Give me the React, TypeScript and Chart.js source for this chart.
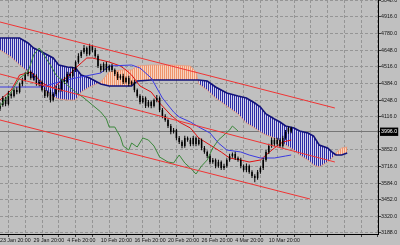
import { useEffect, useRef } from 'react';
import { Chart, registerables } from 'chart.js';

Chart.register(...registerables);

// ---- axis labels ----
const xLabelPos = [0, 12, 24, 36, 48, 60, 72, 84, 96];
const xLabels = ['23 Jan 20:00', '29 Jan 20:00', '4 Feb 20:00', '10 Feb 20:00', '16 Feb 20:00', '20 Feb 20:00', '26 Feb 20:00', '4 Mar 20:00', '10 Mar 20:00'];
const xGridPos = [0, 6, 12, 18, 24, 30, 36, 42, 48, 54, 60, 66, 72, 78, 84, 90, 96, 102, 108, 114, 120, 126, 132];
const yTickValues = [3188, 3320, 3452, 3584, 3716, 3852, 3996, 4116, 4248, 4384, 4516, 4648, 4780, 4916, 5048];
const currentPrice = 3996;

// ---- candles (bar index 0..104) ----
const opens = [
  4180, 4210, 4266, 4218, 4298, 4282, 4330, 4314, 4378, 4410,
  4458, 4474, 4426, 4442, 4378, 4394, 4330, 4282, 4314, 4250,
  4298, 4346, 4330, 4410, 4394, 4458, 4442, 4490, 4554, 4602,
  4634, 4666, 4618, 4682, 4650, 4602, 4522, 4490, 4538, 4490,
  4522, 4490, 4458, 4426, 4442, 4394, 4426, 4378, 4394, 4330,
  4282, 4234, 4266, 4202, 4234, 4202, 4250, 4266, 4170, 4122,
  4090, 4042, 3994, 4010, 3946, 3914, 3882, 3946, 3930, 3898,
  3946, 3898, 3930, 3866, 3834, 3802, 3754, 3770, 3722, 3754,
  3706, 3722, 3770, 3802, 3818, 3786, 3770, 3722, 3690, 3722,
  3674, 3642, 3626, 3674, 3706, 3770, 3834, 3882, 3930, 3898,
  3930, 3882, 3946, 3994, 4026,
];
const highs = [
  4230, 4282, 4276, 4322, 4312, 4344, 4352, 4390, 4428, 4472,
  4496, 4486, 4464, 4456, 4412, 4406, 4352, 4326, 4332, 4312,
  4362, 4370, 4420, 4436, 4476, 4470, 4512, 4566, 4624, 4648,
  4690, 4678, 4700, 4692, 4668, 4616, 4540, 4552, 4556, 4534,
  4540, 4502, 4476, 4456, 4460, 4438, 4444, 4406, 4412, 4342,
  4296, 4282, 4278, 4250, 4244, 4262, 4290, 4278, 4186, 4136,
  4104, 4058, 4026, 4020, 3962, 3928, 3964, 3958, 3948, 3962,
  3958, 3948, 3942, 3882, 3846, 3818, 3786, 3782, 3772, 3766,
  3740, 3784, 3820, 3830, 3836, 3798, 3788, 3734, 3742, 3734,
  3688, 3656, 3690, 3720, 3786, 3850, 3900, 3950, 3946, 3948,
  3944, 3964, 4010, 4038, 4036,
];
const lows = [
  4162, 4196, 4200, 4206, 4262, 4270, 4296, 4302, 4360, 4398,
  4440, 4412, 4406, 4364, 4360, 4318, 4266, 4270, 4230, 4238,
  4284, 4312, 4318, 4378, 4382, 4424, 4430, 4474, 4540, 4586,
  4620, 4600, 4606, 4632, 4588, 4506, 4470, 4476, 4472, 4478,
  4474, 4442, 4410, 4412, 4378, 4382, 4360, 4366, 4312, 4268,
  4216, 4222, 4186, 4190, 4184, 4190, 4232, 4154, 4104, 4076,
  4026, 3976, 3982, 3928, 3898, 3864, 3868, 3916, 3880, 3884,
  3880, 3886, 3848, 3820, 3786, 3736, 3740, 3704, 3708, 3690,
  3690, 3708, 3756, 3788, 3770, 3756, 3704, 3676, 3672, 3660,
  3626, 3592, 3612, 3660, 3690, 3756, 3818, 3868, 3880, 3884,
  3866, 3868, 3932, 3980, 3984,
];
const closes = [
  4210, 4266, 4218, 4298, 4282, 4330, 4314, 4378, 4410, 4458,
  4474, 4426, 4442, 4378, 4394, 4330, 4282, 4314, 4250, 4298,
  4346, 4330, 4410, 4394, 4458, 4442, 4490, 4554, 4602, 4634,
  4666, 4618, 4682, 4650, 4602, 4522, 4490, 4538, 4490, 4522,
  4490, 4458, 4426, 4442, 4394, 4426, 4378, 4394, 4330, 4282,
  4234, 4266, 4202, 4234, 4202, 4250, 4266, 4170, 4122, 4090,
  4042, 3994, 4010, 3946, 3914, 3882, 3946, 3930, 3898, 3946,
  3898, 3930, 3866, 3834, 3802, 3754, 3770, 3722, 3754, 3706,
  3722, 3770, 3802, 3818, 3786, 3770, 3722, 3690, 3722, 3674,
  3642, 3626, 3674, 3706, 3770, 3834, 3882, 3930, 3898, 3930,
  3882, 3946, 3994, 4026, 3996,
];

// ---- Ichimoku cloud (senkou spans) ----
const spanX = [0, 4, 7, 10, 12, 15, 19, 21, 24, 27, 29, 32, 36, 39, 43, 47, 49, 54, 61, 68, 70, 71, 74, 77, 81, 85, 88, 91, 93, 95, 98, 100, 102, 105, 107, 110, 112, 114, 117, 119, 120, 122, 124];
const spanB = [4746, 4746, 4746, 4706, 4666, 4634, 4586, 4530, 4514, 4506, 4450, 4426, 4378, 4362, 4362, 4362, 4402, 4410, 4410, 4410, 4410, 4410, 4402, 4354, 4306, 4282, 4266, 4226, 4194, 4138, 4098, 4074, 4042, 4026, 4002, 3986, 3962, 3890, 3866, 3826, 3810, 3810, 3826];
const spanA = [4650, 4594, 4530, 4474, 4410, 4346, 4274, 4258, 4250, 4250, 4314, 4354, 4394, 4474, 4490, 4490, 4522, 4530, 4530, 4522, 4474, 4378, 4330, 4266, 4202, 4138, 4066, 4026, 3994, 3970, 3946, 3922, 3890, 3850, 3810, 3770, 3730, 3714, 3754, 3794, 3826, 3866, 3874];

// ---- Tenkan / Kijun / Chikou ----
const tenkanX = [0, 4, 7, 11, 13, 15, 19, 21, 24, 27, 29, 31, 33, 36, 39, 43, 45, 47, 50, 54, 57, 61, 64, 68, 71, 75, 79, 82, 86, 89, 93, 95, 98, 101, 104];
const tenkanY = [4250, 4330, 4450, 4474, 4434, 4386, 4346, 4386, 4434, 4506, 4546, 4586, 4586, 4570, 4554, 4522, 4490, 4450, 4362, 4314, 4226, 4130, 4074, 4026, 3946, 3890, 3834, 3786, 3770, 3754, 3770, 3810, 3866, 3914, 3930];
const kijunX = [0, 7, 15, 21, 27, 36, 39, 47, 50, 54, 56, 58, 62, 64, 68, 71, 75, 78, 81, 86, 89, 93, 98, 102, 104];
const kijunY = [4354, 4354, 4354, 4394, 4426, 4466, 4522, 4530, 4506, 4426, 4346, 4266, 4154, 4114, 4074, 4034, 3986, 3906, 3850, 3834, 3810, 3786, 3786, 3802, 3810];
const chikouX = [0, 4, 7, 10, 12, 14, 15, 18, 20, 24, 27, 30, 33, 36, 38, 39, 41, 43, 44, 46, 47, 49, 51, 53, 55, 57, 60, 62, 64, 66, 68, 70, 72, 74, 76, 78, 80, 82, 83, 85];
const chikouY = [4202, 4314, 4426, 4474, 4610, 4666, 4634, 4530, 4450, 4370, 4314, 4266, 4210, 4154, 4098, 4034, 4034, 3954, 3882, 3850, 3906, 3874, 3946, 3930, 3882, 3794, 3754, 3746, 3810, 3746, 3706, 3658, 3722, 3770, 3866, 3930, 3970, 4010, 4042, 4002];

// ---- red channel trend lines ----
const trendTopX = [0, 119.6];
const trendTopY = [4874, 4186];
const trendMidX = [0, 119.6];
const trendMidY = [4458, 3754];
const trendLowX = [0, 110.7];
const trendLowY = [4090, 3458];

const FONT = "'Liberation Sans',Arial,sans-serif";

const pts = (xs: number[], ys: number[]) => xs.map((x, i) => ({ x, y: ys[i] }));

export default function App() {
  const ref = useRef<HTMLCanvasElement>(null);

  useEffect(() => {
    const canvas = ref.current!;
    const ctx = canvas.getContext('2d')!;
    const stripe = (line: string, gap: string) => {
      const c = document.createElement('canvas');
      c.width = 2;
      c.height = 2;
      const g = c.getContext('2d')!;
      g.fillStyle = gap;
      g.fillRect(0, 0, 2, 2);
      g.fillStyle = line;
      g.fillRect(0, 0, 1, 2);
      return ctx.createPattern(c, 'repeat')!;
    };
    const blueStripes = stripe('#2c2ca6', '#d4d4ec');
    const orangeStripes = stripe('#ef946c', '#f7d3c0');

    const idx = closes.map((_, i) => i);
    const isCur = (c: any) => c && c.tick && c.tick.value === currentPrice;

    const chart = new Chart(canvas, {
      type: 'line',
      data: {
        datasets: [
          {
            type: 'line',
            data: pts(spanX, spanB),
            borderColor: '#12127a',
            borderWidth: 1.6,
            pointRadius: 0,
            fill: false,
            order: 9,
          },
          {
            type: 'line',
            data: pts(spanX, spanA),
            borderColor: '#e89a7c',
            borderWidth: 0.8,
            pointRadius: 0,
            fill: { target: 0, above: orangeStripes, below: blueStripes },
            order: 10,
          },
          {
            type: 'line',
            data: pts(kijunX, kijunY),
            borderColor: '#3a3ae0',
            borderWidth: 1,
            pointRadius: 0,
            order: 6,
          },
          {
            type: 'line',
            data: pts(tenkanX, tenkanY),
            borderColor: '#e01010',
            borderWidth: 1,
            pointRadius: 0,
            order: 6,
          },
          {
            type: 'line',
            data: pts(chikouX, chikouY),
            borderColor: '#3b873b',
            borderWidth: 1,
            pointRadius: 0,
            order: 2,
          },
          {
            type: 'bar',
            data: idx.map((i) => ({ x: i, y: [lows[i], highs[i]] })),
            backgroundColor: '#000',
            grouped: false,
            maxBarThickness: 1,
            inflateAmount: 0,
            order: 4,
          } as any,
          {
            type: 'bar',
            data: idx.map((i) => ({ x: i, y: [opens[i], closes[i]] })),
            backgroundColor: '#000',
            grouped: false,
            maxBarThickness: 1.5,
            inflateAmount: 0,
            order: 3,
          } as any,
          {
            type: 'line',
            data: pts(trendTopX, trendTopY),
            borderColor: '#f03434',
            borderWidth: 1,
            pointRadius: 0,
            order: 1,
          },
          {
            type: 'line',
            data: pts(trendMidX, trendMidY),
            borderColor: '#f03434',
            borderWidth: 1,
            pointRadius: 0,
            order: 1,
          },
          {
            type: 'line',
            data: pts(trendLowX, trendLowY),
            borderColor: '#f03434',
            borderWidth: 1,
            pointRadius: 0,
            order: 1,
          },
        ] as any,
      },
      options: {
        responsive: false,
        animation: false,
        events: [],
        layout: { padding: 0 },
        plugins: {
          legend: { display: false },
          tooltip: { enabled: false },
        },
        elements: { line: { tension: 0 } },
        scales: {
          x: {
            type: 'linear',
            min: 0,
            max: 135,
            offset: false,
            afterBuildTicks: (s: any) => {
              s.ticks = xGridPos.map((v) => ({ value: v }));
            },
            afterFit: (s: any) => {
              s.height = 11;
              s.paddingLeft = 0;
              s.paddingRight = 0;
            },
            ticks: {
              autoSkip: false,
              maxRotation: 0,
              minRotation: 0,
              align: 'start',
              padding: 0,
              color: '#151515',
              font: { family: FONT, size: 5.3 },
              callback: (v: any) => {
                const k = xLabelPos.indexOf(Number(v));
                return k >= 0 ? xLabels[k] : '';
              },
            },
            grid: {
              color: '#959595',
              lineWidth: 1,
              drawTicks: true,
              tickLength: 3,
              tickColor: '#404040',
              tickBorderDash: [],
            } as any,
            border: { display: true, color: '#000', width: 1, dash: [3, 2] },
          },
          y: {
            type: 'linear',
            position: 'right',
            min: 3178,
            max: 5050,
            afterBuildTicks: (s: any) => {
              s.ticks = yTickValues.map((v) => ({ value: v }));
            },
            afterFit: (s: any) => {
              s.width = 22;
              s.paddingTop = 0;
              s.paddingBottom = 0;
            },
            ticks: {
              autoSkip: false,
              padding: 0,
              font: { family: FONT, size: 5.3 },
              color: (c: any) => (isCur(c) ? '#ffffff' : '#151515'),
              showLabelBackdrop: (c: any) => isCur(c),
              backdropColor: '#000',
              backdropPadding: { top: 1, bottom: 1, left: 1, right: 1 },
              callback: (v: any) => Number(v).toFixed(1),
            } as any,
            grid: {
              color: (c: any) => (isCur(c) ? '#767676' : '#959595'),
              lineWidth: 1,
              drawTicks: true,
              tickLength: 3,
              tickColor: '#404040',
              tickBorderDash: [],
            } as any,
            border: {
              display: true,
              color: '#000',
              width: 1,
              dash: (c: any) => (isCur(c) ? [] : [3, 2]),
            } as any,
          },
        },
      } as any,
    });
    return () => chart.destroy();
  }, []);

  return (
    <div style={{ position: 'fixed', left: 0, top: 0, width: 400, height: 245, background: '#c0c0c0' }}>
      <canvas ref={ref} width={400} height={245} style={{ display: 'block' }} />
    </div>
  );
}
